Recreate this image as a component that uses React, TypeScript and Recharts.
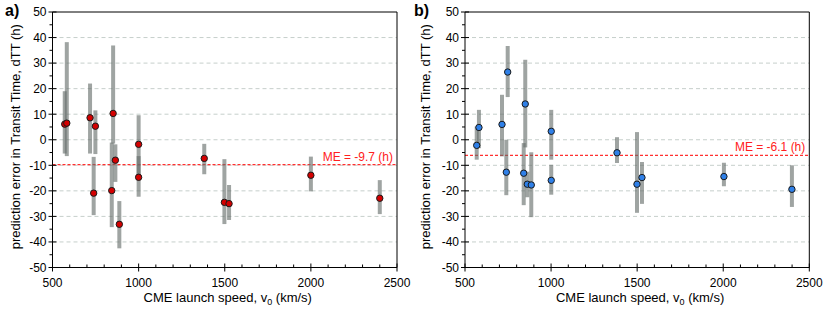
import React from 'react';
import { ScatterChart, Scatter, XAxis, YAxis, ErrorBar, ReferenceLine, Label } from 'recharts';

// panel a)
const speedA = [571, 583, 718, 749, 739, 852, 865, 844, 888, 1000, 1000, 1381, 1498, 1525, 2000, 2400];
const dttA = [6.1, 6.5, 8.6, 5.3, -20.9, 10.3, -8.0, -19.9, -33.1, -1.8, -14.7, -7.3, -24.5, -25.0, -13.9, -22.9];
const lowA = [-5.4, -6.4, -5.4, -5.6, -29.5, -1.5, -16.5, -34.2, -42.5, -15.8, -22.3, -13.5, -33.0, -31.4, -20.2, -29.1];
const highA = [19.0, 38.2, 22.0, 11.5, -6.7, 36.9, -1.8, -1.1, -24.0, 9.6, -6.4, -1.6, -7.6, -17.7, -6.6, -15.8];
const meA = -9.7;

// panel b)
const speedB = [568, 581, 715, 748, 740, 850, 841, 862, 885, 1001, 1001, 1383, 1499, 1528, 2004, 2399];
const dttB = [-2.2, 4.8, 6.0, 26.5, -12.7, 14.0, -13.1, -17.4, -17.7, 3.3, -15.9, -5.1, -17.4, -14.8, -14.4, -19.4];
const lowB = [-7.8, -3.3, -6.5, 16.7, -21.7, -3.0, -25.6, -22.5, -30.3, -7.8, -21.5, -9.1, -28.6, -25.1, -18.2, -26.3];
const highB = [5.2, 11.7, 17.6, 36.7, 0.0, 31.3, -1.3, -12.5, -4.9, 11.7, -9.8, 1.0, 3.0, -8.7, -9.0, -10.0];
const meB = -6.1;

const xTicks = [500, 600, 700, 800, 900, 1000, 1100, 1200, 1300, 1400, 1500, 1600, 1700, 1800, 1900, 2000, 2100, 2200, 2300, 2400, 2500];
const yTicks = [-50, -45, -40, -35, -30, -25, -20, -15, -10, -5, 0, 5, 10, 15, 20, 25, 30, 35, 40, 45, 50];
const gridValues = [-40, -30, -20, -10, 0, 10, 20, 30, 40];

const FONT = '"Liberation Sans", Arial, Helvetica, sans-serif';

const build = (xs: number[], ys: number[], lo: number[], hi: number[]) =>
  xs.map((x, i) => ({ x, y: ys[i], err: [ys[i] - lo[i], hi[i] - ys[i]] }));

const XTick = (props: any) => {
  const { x, y, payload } = props;
  const v = payload.value;
  const axisY = y - 4;
  const major = v % 500 === 0;
  return (
    <g>
      {major ? (
        <line x1={x} x2={x} y1={axisY - 4} y2={axisY + 4} stroke="#000" />
      ) : (
        <line x1={x} x2={x} y1={axisY - 3} y2={axisY} stroke="#000" />
      )}
      {major && (
        <text x={x} y={axisY + 11} dy="0.71em" textAnchor="middle" fontSize={12} fill="#000" fontFamily={FONT}>
          {v}
        </text>
      )}
    </g>
  );
};

const YTick = (props: any) => {
  const { x, y, payload } = props;
  const v = payload.value;
  const axisX = x + 6;
  const major = v % 10 === 0;
  return (
    <g>
      {major ? (
        <line x1={axisX - 4} x2={axisX + 4} y1={y} y2={y} stroke="#000" />
      ) : (
        <line x1={axisX - 3} x2={axisX} y1={y} y2={y} stroke="#000" />
      )}
      {major && (
        <text x={axisX - 6} y={y} dy="0.36em" textAnchor="end" fontSize={12} fill="#000" fontFamily={FONT}>
          {v}
        </text>
      )}
    </g>
  );
};

function Panel({
  letter, xs, ys, lo, hi, me, fill, left, right, yLabelX,
}: {
  letter: string; xs: number[]; ys: number[]; lo: number[]; hi: number[]; me: number;
  fill: string; left: number; right: number; yLabelX: number;
}) {
  const data = build(xs, ys, lo, hi);
  return (
    <div style={{ position: 'relative', width: 415, height: 312 }}>
      <ScatterChart width={415} height={312} margin={{ top: 12, right, bottom: 0, left: 0 }}>
        {gridValues.map((g) => (
          <ReferenceLine key={g} y={g} stroke="#c6cfcb" strokeDasharray="4 3" />
        ))}
        <ReferenceLine y={50} stroke="#000" />
        <ReferenceLine x={2500} stroke="#000" />
        <ReferenceLine
          y={me}
          stroke="#ff3030"
          strokeDasharray="3 2"
          strokeWidth={1.2}
          label={{
            value: `ME = ${me} (h)`,
            position: 'insideBottomRight',
            fill: '#ff2020',
            fontSize: 12,
            fontFamily: FONT,
            offset: 4,
          }}
        />
        <XAxis
          type="number"
          dataKey="x"
          domain={[500, 2500]}
          ticks={xTicks}
          interval={0}
          height={44.5}
          tickSize={0}
          tickMargin={4}
          tick={<XTick />}
          axisLine={{ stroke: '#000' }}
          tickLine={false}
        >
          <Label
            content={(p: any) => {
              const vb = p.viewBox;
              const cx = vb.x + vb.width / 2 + 3;
              return (
                <text x={cx} y={302} textAnchor="middle" fontSize={13} fill="#000" fontFamily={FONT}>
                  CME launch speed, v
                  <tspan dy={3} fontSize={9}>0</tspan>
                  <tspan dy={-3}> (km/s)</tspan>
                </text>
              );
            }}
          />
        </XAxis>
        <YAxis
          type="number"
          dataKey="y"
          domain={[-50, 50]}
          ticks={yTicks}
          interval={0}
          width={left}
          tickSize={0}
          tickMargin={6}
          tick={<YTick />}
          axisLine={{ stroke: '#000' }}
          tickLine={false}
        >
          <Label
            content={(p: any) => {
              const vb = p.viewBox;
              const cy = vb.y + vb.height / 2 - 3;
              return (
                <text
                  x={yLabelX}
                  y={cy}
                  transform={`rotate(-90 ${yLabelX} ${cy})`}
                  textAnchor="middle"
                  dominantBaseline="central"
                  fontSize={13}
                  fill="#000"
                  fontFamily={FONT}
                >
                  prediction error in Transit Time, dTT (h)
                </text>
              );
            }}
          />
        </YAxis>
        <Scatter
          data={data}
          fill={fill}
          stroke="#1a1a1a"
          strokeWidth={1}
          isAnimationActive={false}
          shape={(p: any) => <circle cx={p.cx} cy={p.cy} r={3.2} fill={fill} stroke="#1a1a1a" strokeWidth={1} />}
        >
          <ErrorBar
            dataKey="err"
            direction="y"
            width={0}
            stroke="rgba(100,108,105,0.62)"
            strokeWidth={4}
            isAnimationActive={false}
          />
        </Scatter>
      </ScatterChart>
      <div
        style={{
          position: 'absolute',
          left: letter === 'a)' ? 5 : -1,
          top: 1,
          fontFamily: FONT,
          fontWeight: 'bold',
          fontSize: 16,
          lineHeight: '20px',
        }}
      >
        {letter}
      </div>
    </div>
  );
}

export default function App() {
  return (
    <div style={{ position: 'absolute', left: 0, top: 0, width: 830, height: 312, background: '#fff', display: 'flex' }}>
      <Panel letter="a)" xs={speedA} ys={dttA} lo={lowA} hi={highA} me={meA} fill="#d40000" left={52.5} right={18} yLabelX={15} />
      <Panel letter="b)" xs={speedB} ys={dttB} lo={lowB} hi={highB} me={meB} fill="#2f80e8" left={50} right={20.7} yLabelX={10} />
    </div>
  );
}
